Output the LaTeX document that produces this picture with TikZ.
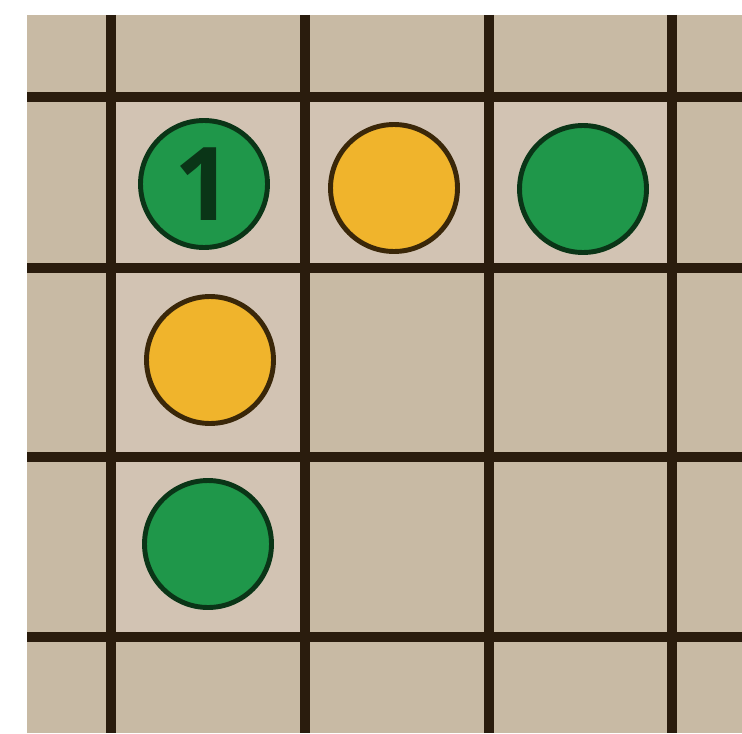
\documentclass[tikz,border=0pt]{standalone}
\usepackage{fontspec}
\newfontfamily\stonefont{Open Sans}
\usepackage{xcolor}
\usepackage{tikz}
\usetikzlibrary{positioning}
\definecolor{cBoard}{HTML}{C8BAA4}
\definecolor{cCell}{HTML}{D2C3B3}
\definecolor{cLine}{HTML}{2A1C0D}
\definecolor{cGreen}{HTML}{1F974A}
\definecolor{cGreenEdge}{HTML}{0A3517}
\definecolor{cYellow}{HTML}{F0B42C}
\definecolor{cYellowEdge}{HTML}{3A2709}
\tikzset{
  gridline/.style={draw=cLine, line width=5.6pt},
  stone/.style   ={circle, inner sep=0pt, minimum size=2.54cm, line width=2.8pt},
  gstone/.style  ={stone, fill=cGreen, draw=cGreenEdge},
  ystone/.style  ={stone, fill=cYellow, draw=cYellowEdge},
}
\begin{document}
\begin{tikzpicture}[x=0.02cm, y=-0.02cm]
  \useasboundingbox (0,0) rectangle (742,733);
  % board
  \fill[cBoard] (27,15) rectangle (742,733);
  \fill[cCell] (111,97) rectangle (672,268);
  \fill[cCell] (111,268) rectangle (305,637);
  \foreach \y in {97,268,457,637}
    \draw[gridline] (27,\y) -- (742,\y);
  \foreach \x in {111,305,489,672}
    \draw[gridline] (\x,15) -- (\x,733);
  % stones
  \node[gstone] (g1) at (204,184){\stonefont\bfseries\fontsize{58}{58}\selectfont\color{cGreenEdge}1};
  \node[ystone] (y1) at (394,188){};
  \node[gstone] (g2) at (583,189){};
  \node[ystone] (y2) at (210,360){};
  \node[gstone] (g3) at (208,544){};
\end{tikzpicture}
\end{document}
